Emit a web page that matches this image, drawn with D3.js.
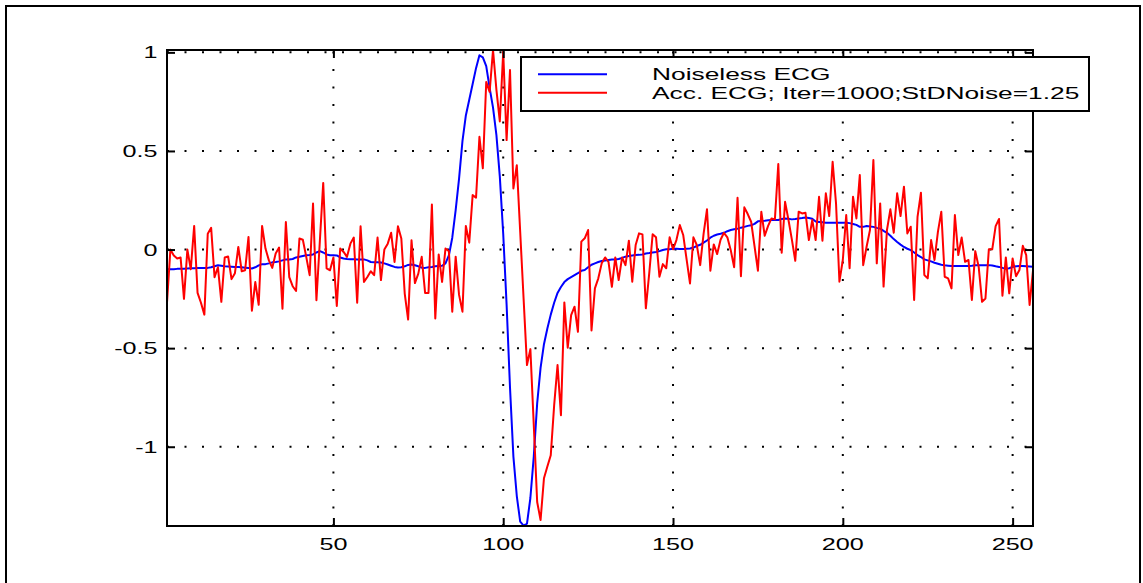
<!DOCTYPE html>
<html>
<head>
<meta charset="utf-8">
<script src="https://cdn.jsdelivr.net/npm/d3@7"></script>
<style>
  body { margin: 0; background: #fff; }
  text { font-family: "Liberation Sans", Arial, Helvetica, sans-serif; }
</style>
</head>
<body>
<div id="wrapper"></div>
<script>
// sample index 1..256
const xTicks = [50, 100, 150, 200, 250]
const yTicks = [1, 0.5, 0, -0.5, -1]
const yTickLabels = ["1", "0.5", "0", "-0.5", "-1"]
const seriesNames = ["Noiseless ECG", "Acc. ECG; Iter=1000;StDNoise=1.25"]
const seriesColors = ["#0000ff", "#ff0000"]

// noiseless ECG (blue)
const noiseless = [
  -0.10, -0.10, -0.10, -0.098, -0.097, -0.097, -0.096, -0.095, -0.095, -0.094, -0.094, -0.093, -0.093,
  -0.09, -0.085, -0.08, -0.082, -0.085, -0.086, -0.087,
  -0.088, -0.088, -0.09, -0.092, -0.094, -0.096, -0.09,
  -0.08, -0.074, -0.074, -0.07, -0.065, -0.063, -0.06,
  -0.055, -0.05, -0.05, -0.048, -0.04, -0.037, -0.033,
  -0.029, -0.028, -0.025, -0.015, -0.008, -0.015, -0.025,
  -0.029, -0.029, -0.03, -0.04, -0.045, -0.048, -0.049,
  -0.049, -0.05, -0.05, -0.05, -0.055, -0.063, -0.064,
  -0.065, -0.066, -0.07, -0.076, -0.082, -0.088, -0.091,
  -0.09, -0.085, -0.078, -0.076, -0.08, -0.085, -0.092,
  -0.093, -0.09, -0.088, -0.085, -0.083, -0.082, -0.07,
  -0.03, 0.06, 0.2, 0.36, 0.55, 0.68, 0.76,
  0.84, 0.92, 0.985, 0.975, 0.93, 0.82, 0.72,
  0.58, 0.37, 0.08, -0.28, -0.7, -1.05, -1.25,
  -1.38, -1.40, -1.39, -1.26, -1.05, -0.78, -0.60,
  -0.48, -0.40, -0.33, -0.27, -0.22, -0.19, -0.165,
  -0.15, -0.14, -0.13, -0.12, -0.108, -0.104, -0.09,
  -0.077, -0.07, -0.063, -0.058, -0.055, -0.053, -0.051,
  -0.05, -0.048, -0.042, -0.036, -0.033, -0.03, -0.028,
  -0.027, -0.025, -0.02, -0.018, -0.015, -0.012, -0.008,
  -0.002, 0.001, 0.002, 0.004, 0.004, 0.003, 0.003,
  0.004, 0.005, 0.01, 0.018, 0.024, 0.035, 0.046,
  0.06, 0.07, 0.076, 0.08, 0.085, 0.093, 0.099,
  0.103, 0.106, 0.111, 0.115, 0.12, 0.123, 0.13,
  0.143, 0.145, 0.146, 0.148, 0.15, 0.15, 0.15,
  0.155, 0.158, 0.156, 0.153, 0.155, 0.158, 0.16,
  0.163, 0.16, 0.156, 0.142, 0.14, 0.138, 0.136,
  0.136, 0.136, 0.136, 0.136, 0.136, 0.136, 0.134,
  0.13, 0.125, 0.115, 0.115, 0.119, 0.117, 0.115,
  0.11, 0.106, 0.095, 0.085, 0.07, 0.053, 0.038,
  0.025, 0.013, 0.004, -0.003, -0.015, -0.028, -0.038,
  -0.05, -0.055, -0.06, -0.067, -0.072, -0.077, -0.08,
  -0.082, -0.084, -0.084, -0.084, -0.084, -0.084, -0.083,
  -0.082, -0.08, -0.079, -0.079, -0.079, -0.079, -0.081,
  -0.085, -0.088, -0.093, -0.098, -0.095, -0.088, -0.085,
  -0.084, -0.084, -0.085, -0.086, -0.087
]

// accumulated ECG, 1000 iterations (red)
const accumulated = [
  -0.27, 0.0, -0.03, -0.045, -0.04, -0.25, 0.0, -0.10, 0.12, -0.22,
  -0.27, -0.33, 0.08, 0.11, -0.14, -0.09, -0.265, -0.04, -0.035, -0.15,
  -0.12, 0.013, -0.11, -0.105, 0.064, -0.31, -0.165, -0.28, 0.12, 0.005,
  -0.055, -0.093, -0.02, 0.01, -0.30, 0.14, -0.14, -0.186, -0.21, 0.056,
  0.05, -0.037, -0.13, 0.233, -0.257, 0.04, 0.338, -0.096, -0.105, -0.04,
  -0.286, 0.005, -0.012, -0.037, 0.03, 0.061, -0.27, 0.118, -0.164, -0.139,
  -0.11, -0.13, 0.061, -0.155, 0.0, 0.03, 0.085, -0.063, 0.118, 0.056,
  -0.223, -0.355, 0.047, -0.17, -0.122, -0.037, -0.22, -0.22, 0.228, -0.35,
  -0.025, -0.164, 0.005, -0.008, -0.315, -0.036, -0.23, -0.315, 0.12, 0.035,
  0.276, 0.263, 0.572, 0.412, 0.85, 0.80, 1.012, 0.81, 0.65, 1.003,
  0.555, 0.91, 0.31, 0.428, 0.09, -0.248, -0.586, -0.505, -0.89, -1.28,
  -1.372, -1.16, -1.10, -1.043, -0.79, -0.586, -0.84, -0.268, -0.498, -0.333,
  -0.29, -0.417, 0.04, 0.057, 0.099, -0.41, -0.197, -0.146, -0.07, -0.04,
  -0.062, -0.189, -0.04, -0.155, -0.04, -0.079, 0.045, -0.163, 0.023, 0.082,
  0.077, -0.298, -0.12, 0.077, 0.062, -0.138, -0.074, -0.095, 0.062, 0.001,
  0.048, 0.124, 0.074, -0.05, -0.172, 0.062, 0.023, -0.079, 0.08, 0.204,
  -0.107, 0.026, -0.023, 0.05, 0.085, 0.062, -0.003, -0.09, 0.263, -0.135,
  0.214, 0.18, 0.141, 0.017, -0.107, 0.192, 0.07, 0.12, 0.158, 0.153,
  0.434, -0.016, 0.242, 0.15, 0.05, -0.057, 0.192, 0.183, 0.187, 0.048,
  0.15, 0.048, 0.268, 0.045, 0.285, 0.17, 0.445, 0.234, -0.163, -0.053,
  0.175, -0.095, 0.268, 0.158, 0.378, -0.079, 0.014, 0.099, 0.454, -0.07,
  0.234, -0.188, 0.099, 0.204, 0.085, 0.285, 0.17, 0.319, 0.082, 0.116,
  -0.256, 0.166, 0.288, -0.129, -0.146, 0.048, -0.053, 0.09, 0.192, -0.138,
  -0.146, -0.197, 0.175, -0.028, 0.061, -0.062, -0.053, -0.256, -0.008, -0.087,
  -0.265, -0.248, 0.001, 0.001, 0.119, 0.155, -0.234, -0.04, -0.222, -0.045,
  -0.135, -0.104, 0.019, -0.028, -0.281, -0.107
]

function drawChart() {
  let dimensions = {
    width: 1143,
    height: 583,
    margin: {
      top: 50,
      right: 110,
      bottom: 57,
      left: 167,
    },
  }
  dimensions.boundedWidth = dimensions.width
    - dimensions.margin.left
    - dimensions.margin.right
  dimensions.boundedHeight = dimensions.height
    - dimensions.margin.top
    - dimensions.margin.bottom

  const fontSize = 17
  const stretch = 1.48        // tick text in the figure is widened
  const legendStretch = 1.55  // legend text a bit wider still
  const tickLen = 8

  const wrapper = d3.select("#wrapper")
    .append("svg")
      .attr("width", dimensions.width)
      .attr("height", dimensions.height)

  // figure frame
  wrapper.append("rect")
    .attr("x", 6)
    .attr("y", 6)
    .attr("width", 1134)
    .attr("height", 620)
    .attr("fill", "white")
    .attr("stroke", "black")
    .attr("stroke-width", 2)

  const bounds = wrapper.append("g")
    .attr("transform", `translate(${dimensions.margin.left},${dimensions.margin.top})`)

  const xScale = d3.scaleLinear()
    .domain([1, 256])
    .range([0, dimensions.boundedWidth])

  const yScale = d3.scaleLinear()
    .domain([-1.402, 1.012])
    .range([dimensions.boundedHeight, 0])

  // dotted grid
  const grid = bounds.append("g")
    .attr("stroke", "black")
    .attr("stroke-width", 2)
    .attr("stroke-dasharray", "2,15.5")

  grid.selectAll(".vgrid")
    .data(xTicks)
    .join("line")
      .attr("x1", d => xScale(d))
      .attr("x2", d => xScale(d))
      .attr("y1", dimensions.boundedHeight)
      .attr("y2", 0)

  grid.selectAll(".hgrid")
    .data(yTicks)
    .join("line")
      .attr("x1", 0)
      .attr("x2", dimensions.boundedWidth)
      .attr("y1", d => yScale(d))
      .attr("y2", d => yScale(d))

  // lines
  const lineGenerator = d3.line()
    .x((d, i) => xScale(i + 1))
    .y(d => yScale(d))

  const series = [noiseless, accumulated]
  series.forEach((s, k) => {
    bounds.append("path")
      .attr("d", lineGenerator(s))
      .attr("fill", "none")
      .attr("stroke", seriesColors[k])
      .attr("stroke-width", 2)
      .attr("stroke-linejoin", "round")
  })

  // axes: inward ticks on all four sides, box
  const xAxisBottom = d3.axisBottom(xScale).tickValues(xTicks).tickSizeInner(-tickLen).tickSizeOuter(0).tickFormat("")
  const xAxisTop = d3.axisTop(xScale).tickValues(xTicks).tickSizeInner(-tickLen).tickSizeOuter(0).tickFormat("")
  const yAxisLeft = d3.axisLeft(yScale).tickValues(yTicks).tickSizeInner(-tickLen).tickSizeOuter(0).tickFormat("")
  const yAxisRight = d3.axisRight(yScale).tickValues(yTicks).tickSizeInner(-tickLen).tickSizeOuter(0).tickFormat("")

  const axes = [
    bounds.append("g").attr("transform", `translate(0,${dimensions.boundedHeight})`).call(xAxisBottom),
    bounds.append("g").call(xAxisTop),
    bounds.append("g").call(yAxisLeft),
    bounds.append("g").attr("transform", `translate(${dimensions.boundedWidth},0)`).call(yAxisRight),
  ]
  axes.forEach(a => {
    a.selectAll(".domain").remove()
    a.selectAll(".tick line").attr("stroke", "black").attr("stroke-width", 2)
  })

  bounds.append("rect")
    .attr("width", dimensions.boundedWidth)
    .attr("height", dimensions.boundedHeight)
    .attr("fill", "none")
    .attr("stroke", "black")
    .attr("stroke-width", 2)

  // tick labels
  bounds.selectAll(".xlabel")
    .data(xTicks)
    .join("text")
      .attr("transform", d => `translate(${xScale(d)},${dimensions.boundedHeight + 23.5}) scale(${stretch},1)`)
      .attr("text-anchor", "middle")
      .style("font-size", fontSize + "px")
      .text(d => d)

  bounds.selectAll(".ylabel")
    .data(yTicks)
    .join("text")
      .attr("transform", d => `translate(-9.5,${yScale(d) + 6.1}) scale(${stretch},1)`)
      .attr("text-anchor", "end")
      .style("font-size", fontSize + "px")
      .text((d, i) => yTickLabels[i])

  // legend
  const legendGroup = wrapper.append("g")
  legendGroup.append("rect")
    .attr("x", 521)
    .attr("y", 57)
    .attr("width", 568)
    .attr("height", 54)
    .attr("fill", "white")
    .attr("stroke", "black")
    .attr("stroke-width", 2)

  seriesNames.forEach((name, k) => {
    const cy = 74.3 + k * 18.4
    legendGroup.append("line")
      .attr("x1", 538).attr("x2", 607)
      .attr("y1", cy).attr("y2", cy)
      .attr("stroke", seriesColors[k])
      .attr("stroke-width", 2)
    legendGroup.append("text")
      .attr("transform", `translate(652,${cy + 6})scale(${legendStretch},1)`)
      .style("font-size", fontSize + "px")
      .text(name)
  })
}
drawChart()
</script>
</body>
</html>
